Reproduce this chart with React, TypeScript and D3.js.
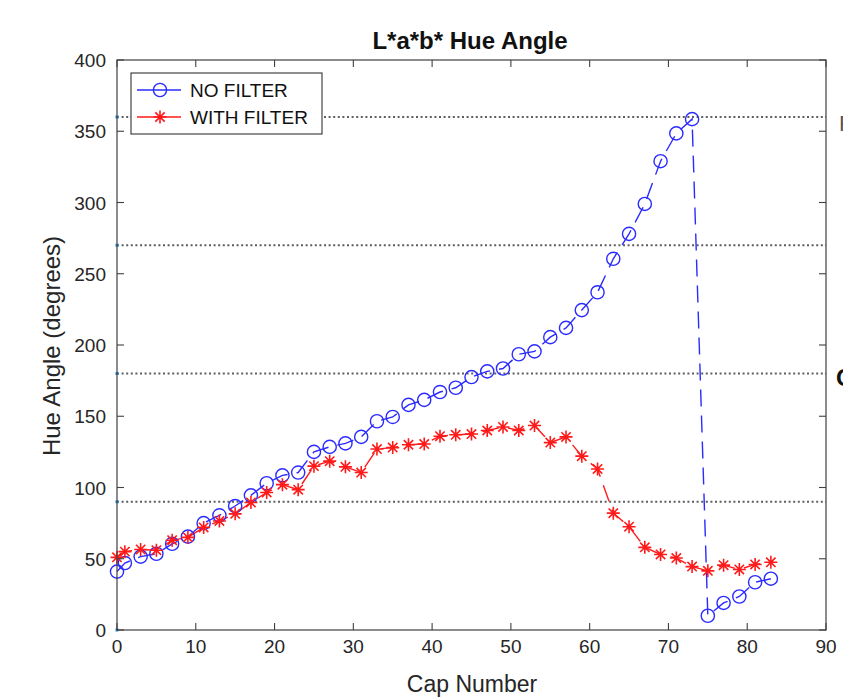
import React from "react";
import * as d3 from "d3";

const capNumbers = [0, 1, 3, 5, 7, 9, 11, 13, 15, 17, 19, 21, 23, 25, 27, 29, 31, 33, 35, 37, 39, 41, 43, 45, 47, 49, 51, 53, 55, 57, 59, 61, 63, 65, 67, 69, 71, 73, 75, 77, 79, 81, 83];
const noFilter = [41, 47, 51.5, 53.5, 60.5, 65.5, 75, 80.5, 87, 94.5, 103, 108.5, 110.5, 125, 128.5, 131, 135.5, 146.5, 149.5, 158, 161.5, 167, 170, 177.5, 181.5, 183.5, 193.5, 195.5, 205.5, 212, 224.5, 237, 260.5, 278, 299, 329, 348.5, 358.5, 10, 19, 23.5, 33.5, 36];
const withFilter = [51, 55, 56.5, 56, 63, 65, 72, 76.5, 81.5, 89.5, 96.5, 102, 98.5, 115, 118.5, 114.5, 110.5, 127, 128, 130, 130.5, 136, 137, 137.5, 140, 142.5, 140, 143.5, 131.5, 135.5, 122, 113, 82, 72.5, 58, 53, 50.5, 44.5, 41.5, 45.5, 42.5, 46, 47.5];
const referenceAngles = [90, 180, 270, 360];
const xTicks = [0, 10, 20, 30, 40, 50, 60, 70, 80, 90];
const yTicks = [0, 50, 100, 150, 200, 250, 300, 350, 400];
const seriesNames = ["NO FILTER", "WITH FILTER"];

const FONT = "'Liberation Sans', Arial, sans-serif";
const L = 117, R = 826, T = 60, B = 630;

function starPath(cx: number, cy: number, s: number) {
  const d = s * 0.72;
  return `M${cx - s},${cy}L${cx + s},${cy}M${cx},${cy - s}L${cx},${cy + s}` +
    `M${cx - d},${cy - d}L${cx + d},${cy + d}M${cx - d},${cy + d}L${cx + d},${cy - d}`;
}

export default function App() {
  const x = d3.scaleLinear().domain([0, 90]).range([L, R]);
  const y = d3.scaleLinear().domain([0, 400]).range([B, T]);
  const blueData = capNumbers.map((c, i) => [c, noFilter[i]] as [number, number]);
  const redData = capNumbers.map((c, i) => [c, withFilter[i]] as [number, number]);
  const line = d3.line<[number, number]>().x(d => x(d[0])).y(d => y(d[1]));
  const blue = "#2b2bff";
  const red = "#ff1a1a";
  const axisColor = "#404040";
  const tickLen = 7;

  return (
    <svg width={843} height={697} style={{ position: "absolute", left: 0, top: 0, background: "#fff" }}>
      <rect x={0} y={0} width={843} height={697} fill="#fff" />
      {/* dotted reference lines */}
      {referenceAngles.map(a => (
        <g key={a}>
          <line x1={x(0)} x2={x(90)} y1={y(a)} y2={y(a)} stroke="#5e5e5e" strokeWidth={1.9} strokeDasharray="2,2.6" />
          <rect x={x(0) - 1.5} y={y(a) - 1.5} width={3} height={3} fill="#2a8fd6" />
        </g>
      ))}
      <rect x={x(0) - 1.5} y={y(0) - 1.5} width={3} height={3} fill="#2a8fd6" />

      {/* series lines */}
      <path d={line(blueData) || ""} fill="none" stroke={blue} strokeWidth={1.4} strokeDasharray="17,9" />
      <path d={line(redData) || ""} fill="none" stroke={red} strokeWidth={1.4} strokeDasharray="17,9" />
      {blueData.map((d, i) => (
        <circle key={"b" + i} cx={x(d[0])} cy={y(d[1])} r={6.6} fill="none" stroke={blue} strokeWidth={1.4} />
      ))}
      {redData.map((d, i) => (
        <path key={"r" + i} d={starPath(x(d[0]), y(d[1]), 6.5)} fill="none" stroke={red} strokeWidth={1.6} />
      ))}

      {/* axes box */}
      <rect x={L} y={T} width={R - L} height={B - T} fill="none" stroke={axisColor} strokeWidth={1.2} />
      {xTicks.map(t => (
        <g key={"xt" + t}>
          <line x1={x(t)} x2={x(t)} y1={B} y2={B - tickLen} stroke={axisColor} strokeWidth={1.1} />
          <line x1={x(t)} x2={x(t)} y1={T} y2={T + tickLen} stroke={axisColor} strokeWidth={1.1} />
          <text x={x(t)} y={653} textAnchor="middle" fontFamily={FONT} fontSize={19} fill="#262626">{t}</text>
        </g>
      ))}
      {yTicks.map(t => (
        <g key={"yt" + t}>
          <line x1={L} x2={L + tickLen} y1={y(t)} y2={y(t)} stroke={axisColor} strokeWidth={1.1} />
          <line x1={R} x2={R - tickLen} y1={y(t)} y2={y(t)} stroke={axisColor} strokeWidth={1.1} />
          <text x={106} y={y(t) + 7} textAnchor="end" fontFamily={FONT} fontSize={19} fill="#262626">{t}</text>
        </g>
      ))}

      {/* labels */}
      <text x={470} y={49} textAnchor="middle" fontFamily={FONT} fontSize={24} fontWeight="bold" fill="#111">L*a*b* Hue Angle</text>
      <text x={472} y={692} textAnchor="middle" fontFamily={FONT} fontSize={23} fill="#262626">Cap Number</text>
      <text transform="translate(60,346) rotate(-90)" textAnchor="middle" fontFamily={FONT} fontSize={24} fill="#262626">Hue Angle (degrees)</text>

      {/* right-side cropped letters */}
      <text x={839} y={131} fontFamily={FONT} fontSize={22} fill="#555">R</text>
      <text x={836} y={386} fontFamily={FONT} fontSize={24} fontWeight="bold" fill="#111">G</text>

      {/* legend */}
      <rect x={131} y={73} width={191} height={61} fill="#fff" stroke="#333" strokeWidth={1.1} />
      <line x1={137} x2={181} y1={90} y2={90} stroke={blue} strokeWidth={1.4} />
      <circle cx={160} cy={90} r={6.6} fill="none" stroke={blue} strokeWidth={1.4} />
      <text x={190} y={97} fontFamily={FONT} fontSize={19} fill="#111">{seriesNames[0]}</text>
      <line x1={137} x2={181} y1={117} y2={117} stroke={red} strokeWidth={1.4} />
      <path d={starPath(160, 117, 6.5)} fill="none" stroke={red} strokeWidth={1.6} />
      <text x={190} y={124} fontFamily={FONT} fontSize={19} fill="#111">{seriesNames[1]}</text>
    </svg>
  );
}
